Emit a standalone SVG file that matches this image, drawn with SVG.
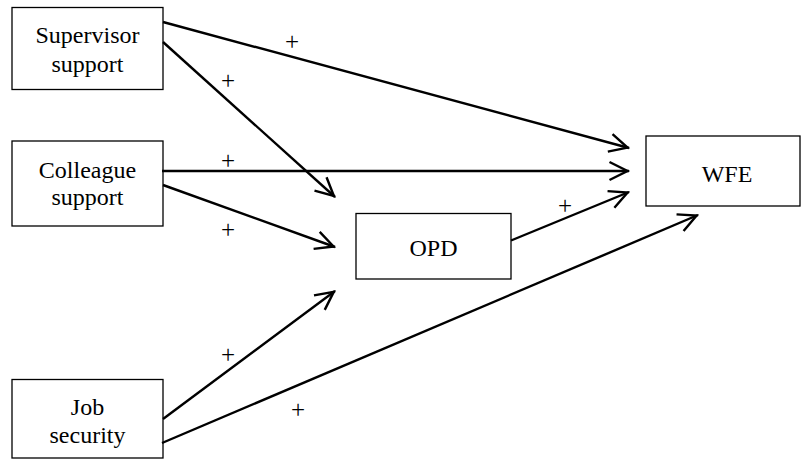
<svg xmlns="http://www.w3.org/2000/svg" width="801" height="459" viewBox="0 0 801 459">
<style>
.box{fill:#fff;stroke:#000;stroke-width:1.3}
.lbl{font-family:"Liberation Serif","Times New Roman",serif;font-size:24px;fill:#000;text-anchor:middle}
.edge{fill:none;stroke:#000;stroke-width:2.4;marker-end:url(#arr)}
.sign{font-family:"Liberation Serif","Times New Roman",serif;font-size:25px;fill:#000;text-anchor:middle}
</style>
<defs>
<marker id="arr" viewBox="-22 -11 24 22" markerWidth="24" markerHeight="22" refX="0" refY="0" markerUnits="userSpaceOnUse" orient="auto">
<path d="M-19.5,-9 L-1.5,0 L-19.5,9" fill="none" stroke="#000" stroke-width="2.4"/>
</marker>
</defs>
<rect width="801" height="459" fill="#fff"/>
<g id="supervisor"><rect class="box" x="12" y="7.5" width="151" height="82"/><text class="lbl" x="87.5" y="43">Supervisor</text><text class="lbl" x="87.5" y="72">support</text></g>
<g id="colleague"><rect class="box" x="12" y="141" width="151" height="85"/><text class="lbl" x="87.5" y="178">Colleague</text><text class="lbl" x="87.5" y="205">support</text></g>
<g id="job"><rect class="box" x="12" y="379.5" width="151" height="78.5"/><text class="lbl" x="87.5" y="415">Job</text><text class="lbl" x="87.5" y="443">security</text></g>
<g id="opd"><rect class="box" x="356" y="213.5" width="155" height="65.5"/><text class="lbl" x="433.5" y="256">OPD</text></g>
<g id="wfe"><rect class="box" x="646" y="136" width="154" height="70"/><text class="lbl" x="727" y="182">WFE</text></g>
<g id="connectors">
<path class="edge" d="M163,22 L629,148"/>
<path class="edge" d="M163,42 L335,197"/>
<path class="edge" d="M162,171 L629,171"/>
<path class="edge" d="M163,185 L335,247"/>
<path class="edge" d="M511,240.5 L629,192"/>
<path class="edge" d="M163,419 L335,291"/>
<path class="edge" d="M162,443 L698,215"/>
<text class="sign" x="292" y="50">+</text>
<text class="sign" x="228" y="89">+</text>
<text class="sign" x="228" y="169">+</text>
<text class="sign" x="228" y="237.5">+</text>
<text class="sign" x="565" y="214">+</text>
<text class="sign" x="228" y="362.5">+</text>
<text class="sign" x="298" y="417.5">+</text>
</g>
</svg>
